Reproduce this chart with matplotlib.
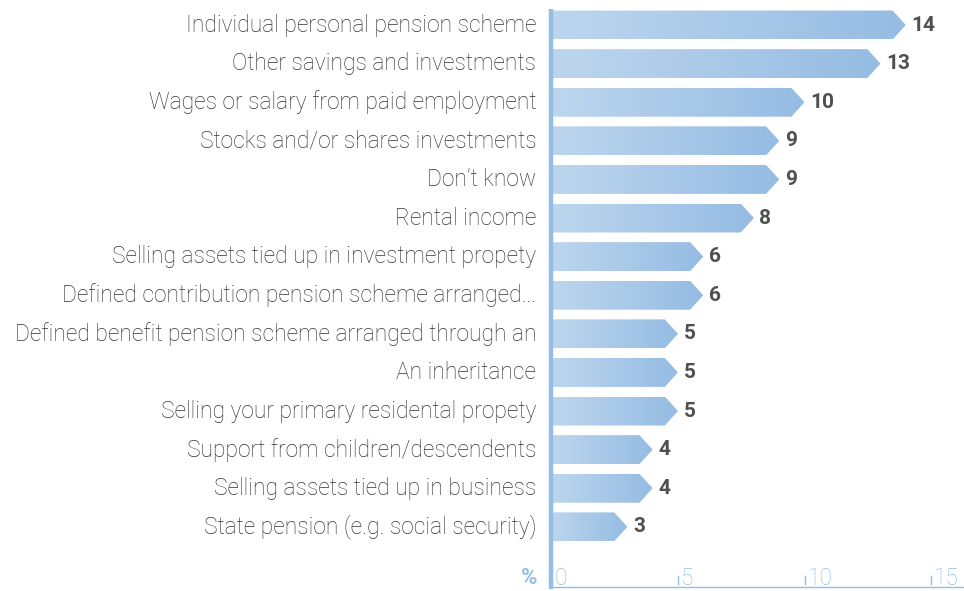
import numpy as np
import matplotlib.pyplot as plt
from matplotlib.path import Path
from matplotlib.patches import PathPatch
from matplotlib.colors import LinearSegmentedColormap

plt.rcParams['font.family'] = ['Roboto', 'DejaVu Sans']

categories = [
    "Individual personal pension scheme",
    "Other savings and investments",
    "Wages or salary from paid employment",
    "Stocks and/or shares investments",
    "Don\u2019t know",
    "Rental income",
    "Selling assets tied up in investment propety",
    "Defined contribution pension scheme arranged...",
    "Defined benefit pension scheme arranged through an",
    "An inheritance",
    "Selling your primary residental propety",
    "Support from children/descendents",
    "Selling assets tied up in business",
    "State pension (e.g. social security)",
]
values = [14, 13, 10, 9, 9, 8, 6, 6, 5, 5, 5, 4, 4, 3]
ticks = [0, 5, 10, 15]

axis_blue = "#94bde5"
label_grey = "#505050"
grad = LinearSegmentedColormap.from_list("bar", ["#bdd6ee", "#95bce3"])

fig = plt.figure(figsize=(9.64, 5.91), dpi=100)
ax = fig.add_axes([0.572, 2 / 591, 1 - 0.572, 1 - 11 / 591])
ax.set_xlim(0, 16.3)
ax.set_ylim(14.61, -0.415)
ax.axis("off")

h = 0.375      # half bar height
head = 0.52    # arrow head length in x units
gradient = np.linspace(0, 1, 256).reshape(1, -1)

for i, (cat, v) in enumerate(zip(categories, values)):
    verts = [(0, i - h), (v - head, i - h), (v, i), (v - head, i + h), (0, i + h), (0, i - h)]
    codes = [Path.MOVETO] + [Path.LINETO] * 4 + [Path.CLOSEPOLY]
    patch = PathPatch(Path(verts, codes), facecolor="none", edgecolor="none")
    ax.add_patch(patch)
    im = ax.imshow(gradient, cmap=grad, aspect="auto", extent=(0, v, i + h, i - h),
                   interpolation="bilinear")
    im.set_clip_path(patch)
    ax.text(v + 0.22, i, str(v), ha="left", va="center", fontsize=15,
            fontweight="bold", color=label_grey)
    ax.text(-0.6, i, cat, ha="right", va="center", fontsize=16.4,
            fontweight="light", color="#333333")

# axis lines
ax.plot([0, 0], [14.61, -0.415], color=axis_blue, lw=3.2, solid_capstyle="butt", clip_on=False)
ax.plot([0, 16.3], [14.56, 14.56], color=axis_blue, lw=1, clip_on=False)

# tick marks and labels
for t in ticks:
    if t > 0:
        ax.plot([t, t], [14.27, 14.48], color=axis_blue, lw=1, clip_on=False)
    ax.text(t + 0.12, 14.33, str(t), ha="left", va="center", fontsize=16.4,
            fontweight="light", color=axis_blue)
ax.text(-0.55, 14.33, "%", ha="right", va="center", fontsize=16,
        fontweight="bold", color=axis_blue)

fig.savefig("out.png", dpi=100)
